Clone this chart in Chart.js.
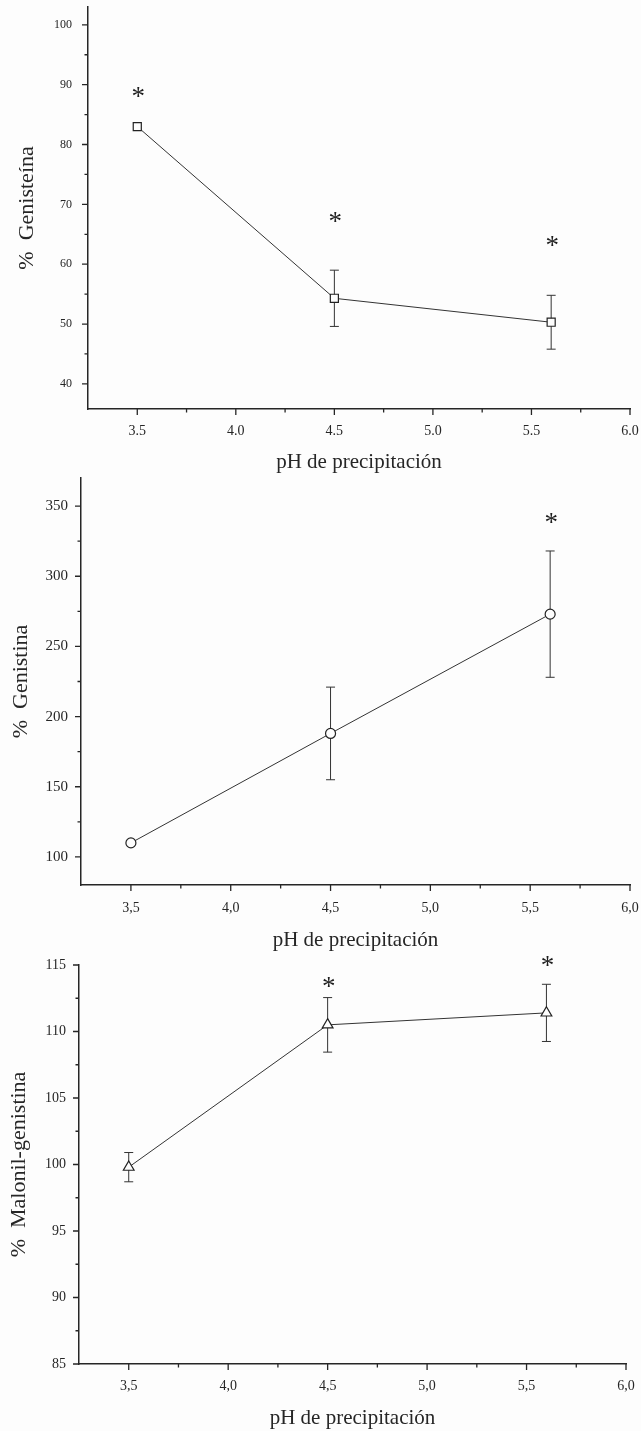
<!DOCTYPE html>
<html>
<head>
<meta charset="utf-8">
<script src="https://cdn.jsdelivr.net/npm/chart.js@4.4.1/dist/chart.umd.min.js"></script>
<style>
    html, body { margin: 0; padding: 0; background: #fdfdfd; }
    body { width: 641px; height: 1431px; position: relative; overflow: hidden; }
    canvas { position: absolute; left: 0; }
</style>
</head>
<body>
<canvas id="chart-genisteina" style="top:0px;width:641px;height:480px" width="641" height="480"></canvas>
<canvas id="chart-genistina" style="top:470px;width:641px;height:490px" width="641" height="490"></canvas>
<canvas id="chart-malonil" style="top:950px;width:641px;height:481px" width="641" height="481"></canvas>
<script>
// pH values shared by the three panels
const phValues = [3.5, 4.5, 5.6];

// % Genisteína
const genisteina = [83, 54.3, 50.3];
const genisteinaErr = [0, 4.7, 4.5];
const genisteinaStars = [89, 68, 64];

// % Genistina
const genistina = [110, 188, 273];
const genistinaErr = [0, 33, 45];
const genistinaStars = [null, null, 342];

// % Malonil-genistina
const malonil = [99.8, 110.5, 111.4];
const malonilErr = [1.1, 2.05, 2.15];
const malonilStars = [null, 113.8, 115.4];

// axis ticks
const xTicks = [3.5, 4.0, 4.5, 5.0, 5.5, 6.0];
const xMinorTicks = [3.75, 4.25, 4.75, 5.25, 5.75];
const yTicksGenisteina = [40, 50, 60, 70, 80, 90, 100];
const yMinorGenisteina = [45, 55, 65, 75, 85, 95];
const yTicksGenistina = [100, 150, 200, 250, 300, 350];
const yMinorGenistina = [125, 175, 225, 275, 325];
const yTicksMalonil = [85, 90, 95, 100, 105, 110, 115];
const yMinorMalonil = [87.5, 92.5, 97.5, 102.5, 107.5, 112.5];

const ink = '#262626';
const serif = "'Liberation Serif', 'Times New Roman', serif";

/*------------------------------------------ticks, error bars, asterisks----------------------------------------------- */
const decorations = {
    id: 'decorations',
    beforeDatasetsDraw(chart, args, opts) {
        const ctx = chart.ctx;
        const xs = chart.scales.x;
        const ys = chart.scales.y;
        const area = chart.chartArea;
        ctx.save();
        ctx.strokeStyle = ink;
        ctx.lineWidth = 1.3;
        ctx.beginPath();
        // x ticks, outward
        xTicks.forEach(v => {
            const px = xs.getPixelForValue(v);
            ctx.moveTo(px, area.bottom);
            ctx.lineTo(px, area.bottom + 6);
        });
        xMinorTicks.forEach(v => {
            const px = xs.getPixelForValue(v);
            ctx.moveTo(px, area.bottom);
            ctx.lineTo(px, area.bottom + 3.5);
        });
        // y ticks, outward
        opts.yMajor.forEach(v => {
            const py = ys.getPixelForValue(v);
            ctx.moveTo(area.left, py);
            ctx.lineTo(area.left - 6, py);
        });
        opts.yMinor.forEach(v => {
            const py = ys.getPixelForValue(v);
            ctx.moveTo(area.left, py);
            ctx.lineTo(area.left - 3.5, py);
        });
        ctx.stroke();

        // error bars
        ctx.lineWidth = 1;
        ctx.strokeStyle = '#333';
        ctx.beginPath();
        opts.err.forEach((e, i) => {
            if (!e) return;
            const px = xs.getPixelForValue(phValues[i]);
            const top = ys.getPixelForValue(opts.values[i] + e);
            const bot = ys.getPixelForValue(opts.values[i] - e);
            ctx.moveTo(px, top);
            ctx.lineTo(px, bot);
            ctx.moveTo(px - 4.5, top);
            ctx.lineTo(px + 4.5, top);
            ctx.moveTo(px - 4.5, bot);
            ctx.lineTo(px + 4.5, bot);
        });
        ctx.stroke();
        ctx.restore();
    },
    afterDatasetsDraw(chart, args, opts) {
        const ctx = chart.ctx;
        const xs = chart.scales.x;
        const ys = chart.scales.y;
        const size = 27;
        ctx.save();
        ctx.fillStyle = '#1e1e1e';
        ctx.font = size + 'px ' + serif;
        ctx.textAlign = 'center';
        ctx.textBaseline = 'alphabetic';
        opts.stars.forEach((s, i) => {
            if (s === null) return;
            const px = xs.getPixelForValue(phValues[i]);
            const py = ys.getPixelForValue(s);
            ctx.fillText('*', px + 1, py + 0.52 * size);
        });
        ctx.restore();
    }
};

/*------------------------------------------chart----------------------------------------------- */
function createChart(id, p) {
    const ctx = document.getElementById(id).getContext('2d');
    const canvasHeight = ctx.canvas.height;

    return new Chart(ctx, {
        type: 'scatter',
        data: {
            datasets: [{
                data: phValues.map((v, i) => ({ x: v, y: p.values[i] })),
                showLine: true,
                tension: 0,
                borderColor: '#333',
                borderWidth: 1,
                pointStyle: p.marker,
                pointRadius: p.radius,
                pointHoverRadius: p.radius,
                pointBorderWidth: 1.2,
                pointBorderColor: '#222',
                pointBackgroundColor: '#fdfdfd'
            }]
        },
        options: {
            responsive: false,
            animation: false,
            events: [],
            layout: {
                padding: { top: p.top, right: p.right, left: 0, bottom: 0 }
            },
            plugins: {
                legend: { display: false },
                tooltip: { enabled: false },
                decorations: {
                    values: p.values,
                    err: p.err,
                    stars: p.stars,
                    yMajor: p.yTicks,
                    yMinor: p.yMinor
                }
            },
            scales: {
                x: {
                    type: 'linear',
                    min: 3.25,
                    max: 6.0,
                    afterBuildTicks: s => { s.ticks = xTicks.map(v => ({ value: v })); },
                    afterFit: s => {
                        s.height = canvasHeight - p.bottom;
                        s.paddingLeft = 0;
                        s.paddingRight = 0;
                    },
                    grid: { display: false, drawTicks: false },
                    border: { display: true, color: ink, width: 1.5 },
                    ticks: {
                        padding: p.xLabelPad,
                        color: ink,
                        font: { family: serif, size: 14 },
                        maxRotation: 0,
                        callback: v => p.comma ? v.toFixed(1).replace('.', ',') : v.toFixed(1)
                    },
                    title: {
                        display: true,
                        text: 'pH de precipitación',
                        color: ink,
                        font: { family: serif, size: 21, lineHeight: 1.2 },
                        padding: { top: 0, bottom: p.xTitlePad }
                    }
                },
                y: {
                    type: 'linear',
                    min: p.yMin,
                    max: p.yMax,
                    afterBuildTicks: s => { s.ticks = p.yTicks.map(v => ({ value: v })); },
                    afterFit: s => {
                        s.width = p.left;
                        s.paddingTop = 0;
                        s.paddingBottom = 0;
                    },
                    grid: { display: false, drawTicks: false },
                    border: { display: true, color: ink, width: 1.5 },
                    ticks: {
                        padding: p.yLabelPad,
                        color: ink,
                        font: { family: serif, size: p.yFont }
                    },
                    title: {
                        display: true,
                        text: p.yTitle,
                        color: ink,
                        font: { family: serif, size: 22, lineHeight: 1.2 },
                        padding: { top: p.yTitlePad, bottom: 0 }
                    }
                }
            }
        },
        plugins: [decorations]
    });
}

createChart('chart-genisteina', {
    values: genisteina, err: genisteinaErr, stars: genisteinaStars,
    marker: 'rect', radius: 5.7, comma: false,
    yMin: 35.8, yMax: 103, yTicks: yTicksGenisteina, yMinor: yMinorGenisteina,
    yTitle: '%  Genisteína', yFont: 12,
    top: 6, right: 11, left: 88, bottom: 409,
    xLabelPad: 14, yLabelPad: 16, xTitlePad: 5, yTitlePad: 14
});

createChart('chart-genistina', {
    values: genistina, err: genistinaErr, stars: genistinaStars,
    marker: 'circle', radius: 5, comma: true,
    yMin: 80, yMax: 370, yTicks: yTicksGenistina, yMinor: yMinorGenistina,
    yTitle: '%  Genistina', yFont: 15,
    top: 8, right: 11, left: 81, bottom: 415,
    xLabelPad: 15, yLabelPad: 13, xTitlePad: 7, yTitlePad: 8
});

createChart('chart-malonil', {
    values: malonil, err: malonilErr, stars: malonilStars,
    marker: 'triangle', radius: 6.2, comma: true,
    yMin: 85, yMax: 115, yTicks: yTicksMalonil, yMinor: yMinorMalonil,
    yTitle: '%  Malonil-genistina', yFont: 14,
    top: 15, right: 15, left: 79, bottom: 414,
    xLabelPad: 14, yLabelPad: 13, xTitlePad: 0, yTitlePad: 6
});
</script>
</body>
</html>
